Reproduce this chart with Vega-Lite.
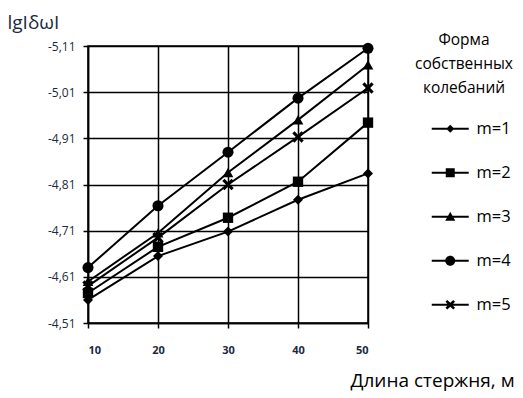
{
 "$schema": "https://vega.github.io/schema/vega-lite/v6.json",
 "width": 280, "height": 277,
 "autosize": {"type": "none"},
 "padding": {"left": 88, "top": 46, "right": 155, "bottom": 75},
 "background": "white",
 "config": {"view": {"stroke": "black", "strokeWidth": 1.5}, "font": "Open Sans"},
 "data": {"values": [
  {"L": 10, "m": "m=1", "v": -4.56}, {"L": 20, "m": "m=1", "v": -4.655}, {"L": 30, "m": "m=1", "v": -4.708}, {"L": 40, "m": "m=1", "v": -4.777}, {"L": 50, "m": "m=1", "v": -4.834},
  {"L": 10, "m": "m=2", "v": -4.575}, {"L": 20, "m": "m=2", "v": -4.675}, {"L": 30, "m": "m=2", "v": -4.738}, {"L": 40, "m": "m=2", "v": -4.816}, {"L": 50, "m": "m=2", "v": -4.944},
  {"L": 10, "m": "m=3", "v": -4.6}, {"L": 20, "m": "m=3", "v": -4.705}, {"L": 30, "m": "m=3", "v": -4.836}, {"L": 40, "m": "m=3", "v": -4.95}, {"L": 50, "m": "m=3", "v": -5.069},
  {"L": 10, "m": "m=4", "v": -4.63}, {"L": 20, "m": "m=4", "v": -4.764}, {"L": 30, "m": "m=4", "v": -4.88}, {"L": 40, "m": "m=4", "v": -4.997}, {"L": 50, "m": "m=4", "v": -5.105},
  {"L": 10, "m": "m=5", "v": -4.59}, {"L": 20, "m": "m=5", "v": -4.695}, {"L": 30, "m": "m=5", "v": -4.81}, {"L": 40, "m": "m=5", "v": -4.913}, {"L": 50, "m": "m=5", "v": -5.019}
 ]},
 "encoding": {
  "x": {"field": "L", "type": "quantitative", "scale": {"domain": [10, 50], "nice": false, "zero": false},
   "axis": {"title": "Длина стержня, м", "titleX": 262, "titleY": 63, "titleAlign": "left", "titleBaseline": "alphabetic", "titleFontSize": 19, "titleFontWeight": "normal", "titleColor": "black",
    "values": [10, 20, 30, 40, 50], "labelFontSize": 11, "labelFontWeight": "bold", "labelPadding": 16, "tickSize": 5, "tickColor": "black", "tickWidth": 1.5, "domainColor": "black", "domainWidth": 1.5, "gridColor": "black", "gridWidth": 1.5, "gridOpacity": 1, "labelColor": "#1a2a40"}},
  "y": {"field": "v", "type": "quantitative", "scale": {"domain": [-5.11, -4.51], "reverse": true, "nice": false, "zero": false},
   "axis": {"title": "lgIδωI", "titleAngle": 0, "titleX": -81, "titleY": -18, "titleAlign": "left", "titleBaseline": "alphabetic", "titleFontSize": 19, "titleFontWeight": "normal", "titleColor": "#1a2a40",
    "values": [-5.11, -5.01, -4.91, -4.81, -4.71, -4.61, -4.51], "labelExpr": "replace(replace(format(datum.value, '.2f'), '.', ','), '\u2212', '-')",
    "labelFontSize": 12, "labelPadding": 8, "tickSize": 5, "tickColor": "black", "tickWidth": 1.5, "domainColor": "black", "domainWidth": 1.5, "gridColor": "black", "gridWidth": 1.5, "gridOpacity": 1, "labelColor": "#1a2a40"}}
 },
 "layer": [
  {"mark": {"type": "line", "color": "black", "strokeWidth": 2}, "encoding": {"detail": {"field": "m"}}},
  {"mark": {"type": "point", "filled": true, "color": "black", "opacity": 1},
   "encoding": {
    "shape": {"field": "m", "type": "nominal", "scale": {"domain": ["m=1", "m=2", "m=3", "m=4", "m=5"], "range": ["diamond", "square", "triangle-up", "circle", "M-1,-0.62L-0.62,-1L0,-0.38L0.62,-1L1,-0.62L0.38,0L1,0.62L0.62,1L0,0.38L-0.62,1L-1,0.62L-0.38,0Z"]}, "legend": null},
    "size": {"field": "m", "type": "ordinal", "scale": {"domain": ["m=1", "m=2", "m=3", "m=4", "m=5"], "range": [100, 130, 150, 170, 130]}, "legend": null}
   }},
  {"transform": [{"filter": "false"}],
   "mark": {"type": "point", "filled": true, "fill": "black", "opacity": 1},
   "encoding": {
    "shape": {"field": "m", "type": "nominal",
     "scale": {"domain": ["m=1", "m=2", "m=3", "m=4", "m=5"], "range": [
      "M-3.7,-0.2H3.7V0.2H-3.7ZM0,-0.8L0.8,0L0,0.8L-0.8,0Z",
      "M-3.7,-0.2H3.7V0.2H-3.7ZM-0.9,-0.9H0.9V0.9H-0.9Z",
      "M-3.7,-0.2H3.7V0.2H-3.7ZM0,-1L1,0.8H-1Z",
      "M-3.7,-0.2H3.7V0.2H-3.7ZM1,0A1,1,0,1,1,-1,0A1,1,0,1,1,1,0Z",
      "M-3.7,-0.2H3.7V0.2H-3.7ZM-0.95,-0.6L-0.6,-0.95L0,-0.38L0.6,-0.95L0.95,-0.6L0.38,0L0.95,0.6L0.6,0.95L0,0.38L-0.6,0.95L-0.95,0.6L-0.38,0Z"]},
     "legend": {"orient": "none", "legendX": 327, "legendY": -13, "title": ["Форма", "собственных", "колебаний"],
      "titleFontSize": 15.5, "titleFontWeight": "normal", "titleColor": "black", "titleAlign": "center", "titleAnchor": "middle", "titleLineHeight": 24, "titlePadding": 24,
      "labelFontSize": 16.5, "labelColor": "black", "labelOffset": 18, "symbolOffset": 25, "symbolSize": 100, "rowPadding": 27, "padding": 0,
      "symbolFillColor": "black", "symbolStrokeColor": "black", "symbolStrokeWidth": 0,
      "encode": {"symbols": {"update": {"fill": {"value": "black"}, "opacity": {"value": 1}}}}}}
   }}
 ],
 "resolve": {"scale": {"shape": "independent", "size": "independent"}, "legend": {"shape": "independent"}}
}
